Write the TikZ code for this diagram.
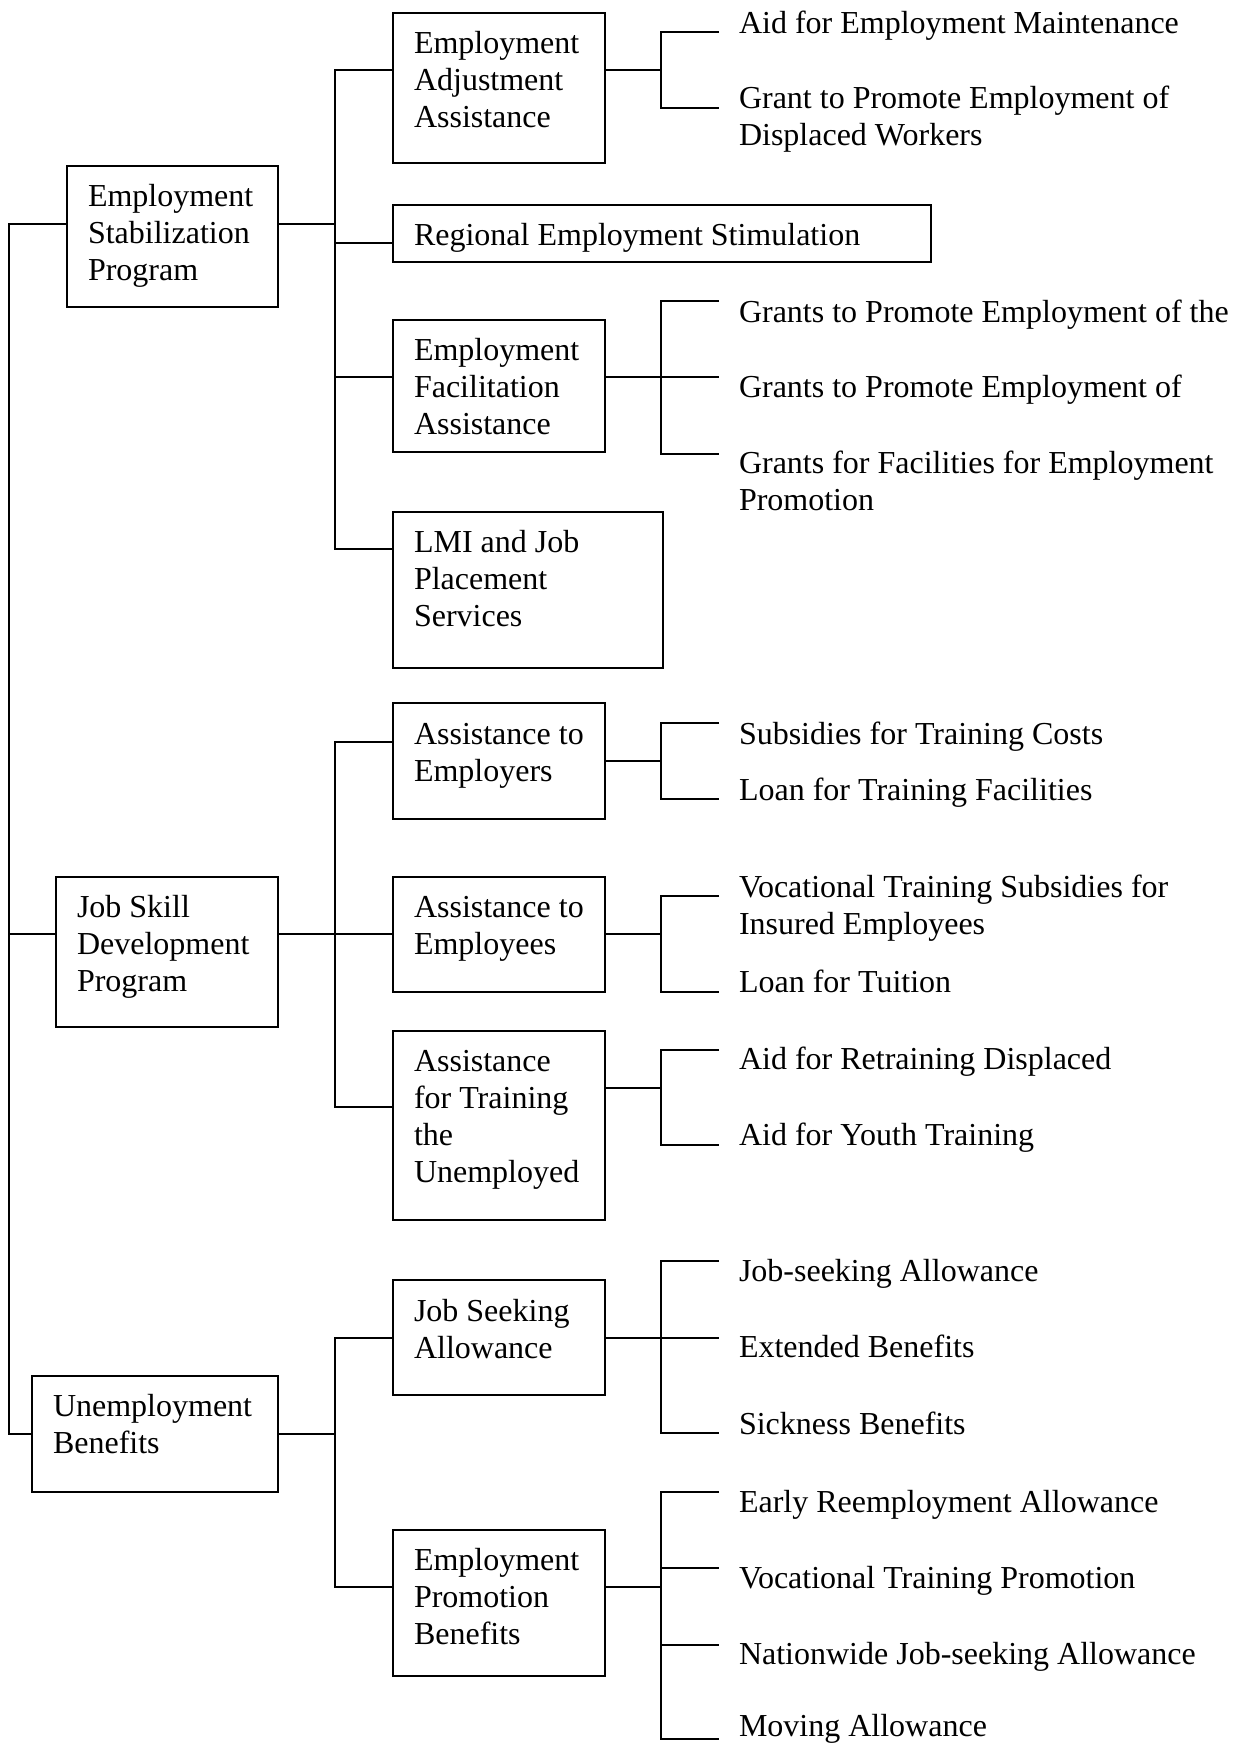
\documentclass[tikz,border=0pt]{standalone}
\usepackage{fontspec}
\setmainfont{Liberation Serif}
\begin{document}
\begin{tikzpicture}[x=1pt,y=-1pt,
  box/.style={draw,line width=1.6pt,rectangle,inner sep=0pt,outer sep=0pt,anchor=north west},
  txt/.style={inner sep=0pt,outer sep=0pt,anchor=north west,align=left,font=\fontsize{32}{37}\selectfont},
  conn/.style={line width=1.6pt},
  intxt/.style={txt}]
\useasboundingbox (0,0) rectangle (1234,1746);

% ---------- level 1 boxes ----------
\node[box,minimum width=211pt,minimum height=141pt] (esp) at (67,166) {};
\node[box,minimum width=222pt,minimum height=150pt] (jsdp) at (56,877) {};
\node[box,minimum width=246pt,minimum height=116pt] (ub) at (32,1376) {};
% ---------- level 2 boxes ----------
\node[box,minimum width=212pt,minimum height=150pt] (adj) at (393,13) {};
\node[box,minimum width=538pt,minimum height=57pt] (reg) at (393,205) {};
\node[box,minimum width=212pt,minimum height=132pt] (fac) at (393,320) {};
\node[box,minimum width=270pt,minimum height=156pt] (lmi) at (393,512) {};
\node[box,minimum width=212pt,minimum height=116pt] (emr) at (393,703) {};
\node[box,minimum width=212pt,minimum height=115pt] (eme) at (393,877) {};
\node[box,minimum width=212pt,minimum height=189pt] (une) at (393,1031) {};
\node[box,minimum width=212pt,minimum height=115pt] (jsa) at (393,1280) {};
\node[box,minimum width=212pt,minimum height=146pt] (epb) at (393,1530) {};

% ---------- texts inside boxes ----------
\node[intxt] (esp-t) at ([shift={(21,14.6)}]esp.north west) {\strut Employment\\Stabilization\\Program};
\node[intxt] (jsdp-t) at ([shift={(21,14.6)}]jsdp.north west) {\strut Job Skill\\Development\\Program};
\node[intxt] (ub-t) at ([shift={(21,14.6)}]ub.north west) {\strut Unemployment\\Benefits};
\node[intxt] (adj-t) at ([shift={(21,14.6)}]adj.north west) {\strut Employment\\Adjustment\\Assistance};
\node[intxt] (reg-t) at ([shift={(21,14.1)}]reg.north west) {\strut Regional Employment Stimulation};
\node[intxt] (fac-t) at ([shift={(21,14.6)}]fac.north west) {\strut Employment\\Facilitation\\Assistance};
\node[intxt] (lmi-t) at ([shift={(21,14.6)}]lmi.north west) {\strut LMI and Job\\Placement\\Services};
\node[intxt] (emr-t) at ([shift={(21,15.6)}]emr.north west) {\strut Assistance to\\Employers};
\node[intxt] (eme-t) at ([shift={(21,14.6)}]eme.north west) {\strut Assistance to\\Employees};
\node[intxt] (une-t) at ([shift={(21,14.6)}]une.north west) {\strut Assistance\\for Training\\the\\Unemployed};
\node[intxt] (jsa-t) at ([shift={(21,15.6)}]jsa.north west) {\strut Job Seeking\\Allowance};
\node[intxt] (epb-t) at ([shift={(21,14.6)}]epb.north west) {\strut Employment\\Promotion\\Benefits};

% ---------- level 3 texts ----------
\node[txt] (g1a) at (739,7.1) {\strut Aid for Employment Maintenance};
\node[txt] (g1b) at (739,82.1) {\strut Grant to Promote Employment of\\Displaced Workers};
\node[txt] (g2a) at (739,296.1) {\strut Grants to Promote Employment of the};
\node[txt] (g2b) at (739,371.1) {\strut Grants to Promote Employment of};
\node[txt] (g2c) at (739,447.1) {\strut Grants for Facilities for Employment\\Promotion};
\node[txt] (g3a) at (739,718.1) {\strut Subsidies for Training Costs};
\node[txt] (g3b) at (739,774.1) {\strut Loan for Training Facilities};
\node[txt] (g4a) at (739,871.1) {\strut Vocational Training Subsidies for\\Insured Employees};
\node[txt] (g4b) at (739,966.1) {\strut Loan for Tuition};
\node[txt] (g5a) at (739,1043.1) {\strut Aid for Retraining Displaced};
\node[txt] (g5b) at (739,1119.1) {\strut Aid for Youth Training};
\node[txt] (g6a) at (739,1255.1) {\strut Job-seeking Allowance};
\node[txt] (g6b) at (739,1331.1) {\strut Extended Benefits};
\node[txt] (g6c) at (739,1408.1) {\strut Sickness Benefits};
\node[txt] (g7a) at (739,1486.1) {\strut Early Reemployment Allowance};
\node[txt] (g7b) at (739,1562.1) {\strut Vocational Training Promotion};
\node[txt] (g7c) at (739,1638.1) {\strut Nationwide Job-seeking Allowance};
\node[txt] (g7d) at (739,1710.1) {\strut Moving Allowance};

% ---------- junction coordinates ----------
\coordinate (t0a) at (9,224);
\coordinate (t0b) at (9,1434);
\coordinate (t1a) at (335,70);
\coordinate (t1b) at (335,549);
\coordinate (t2a) at (335,742);
\coordinate (t2b) at (335,1107);
\coordinate (t3a) at (335,1338);
\coordinate (t3b) at (335,1587);

% ---------- level 0 trunk ----------
\draw[conn] (esp.west |- t0a) -- (t0a) -- (t0b) -- (ub.west |- t0b);
\draw[conn] (jsdp.west |- 0,934) -- (t0a |- 0,934);

% ---------- level 1 trunks ----------
\draw[conn] (esp.east |- t0a) -- (t1a |- t0a);
\draw[conn] (adj.west |- t1a) -- (t1a) -- (t1b) -- (lmi.west |- t1b);
\draw[conn] (reg.west |- 0,243) -- (t1a |- 0,243);
\draw[conn] (fac.west |- 0,377) -- (t1a |- 0,377);

\draw[conn] (jsdp.east |- 0,934) -- (eme.west |- 0,934);
\draw[conn] (emr.west |- t2a) -- (t2a) -- (t2b) -- (une.west |- t2b);

\draw[conn] (ub.east |- t0b) -- (t3a |- t0b);
\draw[conn] (jsa.west |- t3a) -- (t3a) -- (t3b) -- (epb.west |- t3b);

% ---------- level 2 brackets ----------
\draw[conn] (adj.east |- 0,70) -- (661,70);
\draw[conn] (719,32) -- (661,32) -- (661,108) -- (719,108);

\draw[conn] (fac.east |- 0,377) -- (719,377);
\draw[conn] (719,301) -- (661,301) -- (661,454) -- (719,454);

\draw[conn] (emr.east |- 0,761) -- (661,761);
\draw[conn] (719,723) -- (661,723) -- (661,799) -- (719,799);

\draw[conn] (eme.east |- 0,934) -- (661,934);
\draw[conn] (719,896) -- (661,896) -- (661,992) -- (719,992);

\draw[conn] (une.east |- 0,1088) -- (661,1088);
\draw[conn] (719,1050) -- (661,1050) -- (661,1145) -- (719,1145);

\draw[conn] (jsa.east |- 0,1338) -- (719,1338);
\draw[conn] (719,1261) -- (661,1261) -- (661,1433) -- (719,1433);

\draw[conn] (epb.east |- 0,1587) -- (661,1587);
\draw[conn] (719,1492) -- (661,1492) -- (661,1739) -- (719,1739);
\draw[conn] (661,1568) -- (719,1568);
\draw[conn] (661,1645) -- (719,1645);
\end{tikzpicture}
\end{document}
